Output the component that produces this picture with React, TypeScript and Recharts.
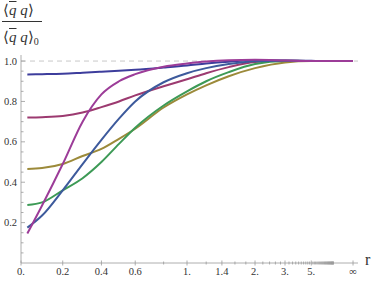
import React from 'react';
import { LineChart, Line, XAxis, YAxis, ReferenceLine } from 'recharts';

// r sample points (x axis is compactified: u = 2/pi * atan(r))
const rValues = [0.03, 0.1, 0.2, 0.3, 0.4, 0.5, 0.6, 0.8, 1, 1.2, 1.5, 2, 3, 5, 10, Infinity];

const curveA = [0.934, 0.935, 0.937, 0.942, 0.947, 0.952, 0.957, 0.968, 0.978, 0.988, 0.997, 1.004, 1.003, 1.001, 1.0, 1.0];
const curveB = [0.72, 0.722, 0.728, 0.745, 0.772, 0.8, 0.83, 0.875, 0.91, 0.94, 0.97, 0.995, 1.002, 1.0, 1.0, 1.0];
const curveC = [0.466, 0.47, 0.49, 0.53, 0.565, 0.615, 0.665, 0.77, 0.835, 0.88, 0.925, 0.965, 0.993, 1.0, 1.0, 1.0];
const curveD = [0.287, 0.3, 0.36, 0.42, 0.5, 0.59, 0.67, 0.78, 0.85, 0.9, 0.945, 0.985, 1.0, 1.0, 1.0, 1.0];
const curveE = [0.175, 0.235, 0.36, 0.49, 0.61, 0.715, 0.8, 0.895, 0.94, 0.965, 0.985, 0.999, 1.002, 1.0, 1.0, 1.0];
const curveF = [0.146, 0.285, 0.49, 0.7, 0.835, 0.9, 0.935, 0.972, 0.988, 0.998, 1.004, 1.006, 1.003, 1.0, 1.0, 1.0];

const xMajorValues = [0, 0.2, 0.4, 0.6, 1, 1.4, 2, 3, 5, Infinity];
const xMajorLabels = ['0.', '0.2', '0.4', '0.6', '1.', '1.4', '2.', '3.', '5.', '∞'];
const yMajorValues = [0.2, 0.4, 0.6, 0.8, 1.0];
const yMajorLabels = ['0.2', '0.4', '0.6', '0.8', '1.0'];

const colors = ['#3d3d9c', '#9c3a70', '#9c8a3a', '#3d9a56', '#3d5a9c', '#9c3c98'];
const curves = [curveA, curveB, curveC, curveD, curveE, curveF];

const squash = (r: number) => (2 / Math.PI) * Math.atan(r);

const data = rValues.map((r, i) => {
  const row: Record<string, number> = { u: squash(r) };
  curves.forEach((c, k) => (row['s' + k] = c[i]));
  return row;
});

// minor ticks every 0.2 between the labelled ones
const xMinorValues: number[] = [];
for (let i = 4; i <= 54; i++) {
  const v = i / 5;
  if (!xMajorValues.some((m) => Math.abs(m - v) < 1e-6)) xMinorValues.push(v);
}
const xTicks = [...xMajorValues, ...xMinorValues].map(squash);

const yTicks: number[] = [];
for (let i = 1; i <= 20; i++) yTicks.push(i / 20);

const axisColor = '#999';
const labelColor = '#333';
const font = '"Liberation Serif", "Times New Roman", serif';

function XTick(props: any) {
  const { x, y, payload } = props;
  const idx = xMajorValues.findIndex((m) => Math.abs(squash(m) - payload.value) < 1e-6);
  if (idx < 0) {
    return <line x1={x} x2={x} y1={y - 1.5} y2={y + 1.5} stroke={axisColor} strokeWidth={0.8} />;
  }
  return (
    <g>
      <line x1={x} x2={x} y1={y - 2.5} y2={y + 2.5} stroke={axisColor} strokeWidth={0.8} />
      <text x={x} y={y + 12} textAnchor="middle" fontSize={10.5} fontFamily={font} fill={labelColor}>
        {xMajorLabels[idx]}
      </text>
    </g>
  );
}

function YTick(props: any) {
  const { x, y, payload } = props;
  const idx = yMajorValues.findIndex((m) => Math.abs(m - payload.value) < 1e-6);
  if (idx < 0) {
    return <line x1={x} x2={x + 2.5} y1={y} y2={y} stroke={axisColor} strokeWidth={0.8} />;
  }
  return (
    <g>
      <line x1={x} x2={x + 4} y1={y} y2={y} stroke={axisColor} strokeWidth={0.8} />
      <text x={x - 4} y={y + 3.5} textAnchor="end" fontSize={10.5} fontFamily={font} fill={labelColor}>
        {yMajorLabels[idx]}
      </text>
    </g>
  );
}

export default function App() {
  return (
    <div style={{ position: 'absolute', left: 0, top: 0, width: 374, height: 282, background: '#fff' }}>
      <LineChart width={374} height={282} data={data} margin={{ top: 55, right: 16, bottom: 0, left: 0 }}>
        <XAxis
          type="number"
          dataKey="u"
          domain={[0, 1.015]}
          ticks={xTicks}
          interval={0}
          tick={<XTick />}
          tickSize={0}
          tickMargin={0}
          tickLine={false}
          axisLine={{ stroke: axisColor, strokeWidth: 0.8 }}
          height={19}
          allowDataOverflow
        />
        <YAxis
          type="number"
          domain={[0, 1.03]}
          ticks={yTicks}
          interval={0}
          tick={<YTick />}
          tickSize={0}
          tickMargin={0}
          tickLine={false}
          axisLine={{ stroke: axisColor, strokeWidth: 0.8 }}
          width={21}
          allowDataOverflow
        />
        <ReferenceLine y={1} stroke="#c8c8c8" strokeDasharray="5 4" strokeWidth={1} />
        {curves.map((_, k) => (
          <Line
            key={k}
            type="monotone"
            dataKey={'s' + k}
            stroke={colors[k]}
            strokeWidth={2}
            dot={false}
            isAnimationActive={false}
          />
        ))}
      </LineChart>
      <div style={{ position: 'absolute', left: 3, top: 1, fontFamily: font, fontSize: 15, color: labelColor, lineHeight: '18px' }}>
        <span>⟨</span>
        <i style={{ textDecoration: 'overline' }}>q</i>
        <i> q</i>
        <span>⟩</span>
      </div>
      <div style={{ position: 'absolute', left: 2, top: 21, width: 40, height: 1.3, background: labelColor }} />
      <div style={{ position: 'absolute', left: 3, top: 28, fontFamily: font, fontSize: 15, color: labelColor, lineHeight: '18px' }}>
        <span>⟨</span>
        <i style={{ textDecoration: 'overline' }}>q</i>
        <i> q</i>
        <span>⟩</span>
        <sub style={{ fontSize: 10, verticalAlign: -3 }}>0</sub>
      </div>
      <div style={{ position: 'absolute', left: 365, top: 252, fontFamily: font, fontSize: 16, color: labelColor, lineHeight: '16px' }}>
        r
      </div>
    </div>
  );
}
